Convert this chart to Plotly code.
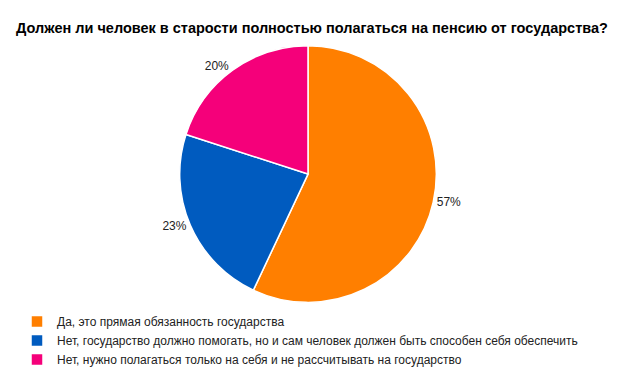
import plotly.graph_objects as go

labels = [
    "Да, это прямая обязанность государства",
    "Нет, государство должно помогать, но и сам человек должен быть способен себя обеспечить",
    "Нет, нужно полагаться только на себя и не рассчитывать на государство",
]
values = [57, 23, 20]
colors = ["#FF7F00", "#005BBF", "#F5007A"]

W, H = 624, 374
cx, cy, r = 308, 175, 129

fig = go.Figure(go.Pie(
    labels=labels,
    values=values,
    sort=False,
    direction="clockwise",
    rotation=0,
    marker=dict(colors=colors, line=dict(color="white", width=1.5)),
    textinfo="percent",
    texttemplate="%{percent:.0%}",
    textposition="outside",
    textfont=dict(family="Liberation Sans, Arial", size=12, color="#222222"),
    domain=dict(x=[(cx - r) / W, (cx + r) / W], y=[(H - cy - r) / H, (H - cy + r) / H]),
    automargin=False,
    showlegend=True,
))

fig.update_layout(
    width=W, height=H,
    margin=dict(l=0, r=0, t=0, b=0),
    paper_bgcolor="white",
    title=dict(
        text="<b>Должен ли человек в старости полностью полагаться на пенсию от государства?</b>",
        x=0.5, xanchor="center", y=1 - 28 / H, yanchor="middle",
        font=dict(family="Liberation Sans, Arial", size=14.5, color="black"),
    ),
    legend=dict(
        x=17 / W, xanchor="left", y=1 - 309 / H, yanchor="top",
        font=dict(family="Liberation Sans, Arial", size=12, color="#222222"),
        itemwidth=30, tracegroupgap=0,
    ),
)

fig.write_html("out.html", config={"displayModeBar": False},
               post_script="document.body.style.margin='0';")
